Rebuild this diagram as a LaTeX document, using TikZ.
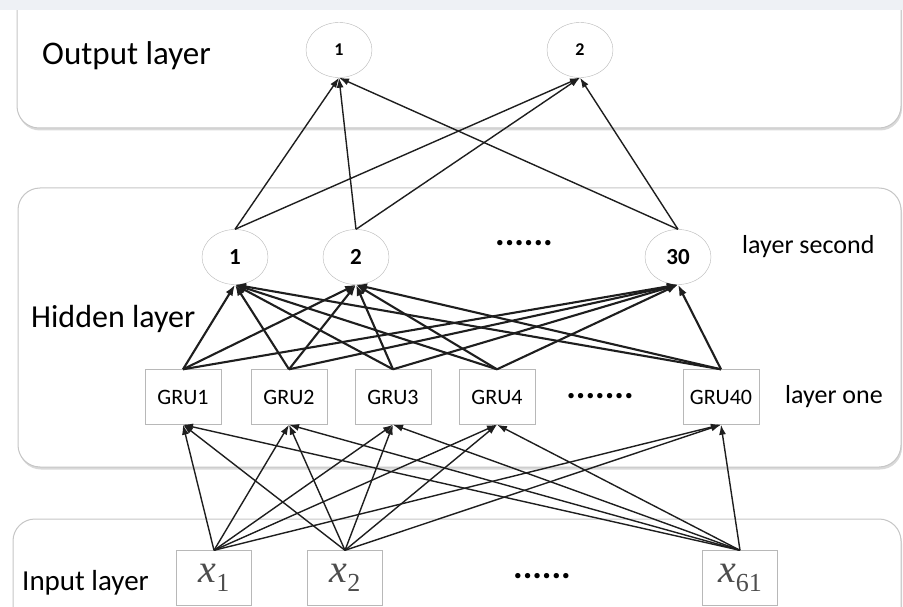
\documentclass[tikz,border=0pt]{standalone}
\usepackage{fontspec}
\setmainfont{Carlito}
\newfontfamily\serifx{Liberation Serif}
\usetikzlibrary{arrows.meta,positioning,shapes.geometric,shadows}
\definecolor{panelgray}{HTML}{C6C6C6}
\definecolor{boxgray}{HTML}{B8B8B8}
\definecolor{linkgray}{HTML}{1E1E1E}
\definecolor{xgray}{HTML}{4D4D4D}
\definecolor{bandgray}{HTML}{EEF1F5}
\newcommand{\xin}[1]{{\fontsize{40}{40}\serifx\itshape x}\raisebox{-9pt}{\fontsize{26}{26}\serifx #1}}
\tikzset{
  panel/.style={draw=panelgray,line width=1pt,rounded corners=22pt,fill=white,drop shadow={shadow xshift=1pt,shadow yshift=-2.5pt,opacity=.3,fill=gray}},
  neuron/.style={ellipse,draw=boxgray,fill=white,minimum width=66pt,minimum height=55pt,inner sep=0pt,font=\fontsize{23}{25}\selectfont\bfseries},
  outneuron/.style={neuron,font=\fontsize{18}{20}\selectfont\bfseries},
  grubox/.style={rectangle,draw=boxgray,fill=white,minimum width=76pt,minimum height=55pt,inner sep=0pt,font=\fontsize{22}{24}\selectfont},
  inbox/.style={rectangle,draw=boxgray,fill=white,minimum width=75pt,minimum height=55pt,inner sep=0pt,text=xgray},
  layertitle/.style={anchor=base west,inner sep=0pt},
  dots/.style={font=\fontsize{36}{36}\selectfont\bfseries,inner sep=0pt},
  link/.style={-{Latex[length=10pt,width=7pt]},line width=1.4pt,draw=linkgray},
  boldlink/.style={-{Latex[length=11pt,width=8pt]},line width=2.1pt,draw=linkgray}
}

\begin{document}
\begin{tikzpicture}[x=1pt,y=-1pt]
\useasboundingbox (0,0) rectangle (903,607);

% layer panels
\draw[panel] (17,-40) rectangle (901,128);
\draw[panel] (18,188) rectangle (901,467);
\draw[panel] (13,519) rectangle (901,660);
\fill[bandgray] (0,0) rectangle (903,10);

% output layer
\node[layertitle,font=\fontsize{33}{36}\selectfont] (outtitle) at (42,65) {Output layer};
\node[outneuron] (o1) at (339,50) {1};
\node[outneuron] (o2) at (580,50) {2};

% hidden layer, second row
\node[layertitle,font=\fontsize{32}{35}\selectfont] (hidtitle) at (31,327) {Hidden layer};
\node[neuron] (h1) at (235,257) {1};
\node[neuron] (h2) at (356,257) {2};
\node[neuron] (h30) at (678,257) {30};
\node[dots] (hdots) at (524,243) {......};
\node[layertitle,font=\fontsize{26}{28}\selectfont] (second) at (742,253) {layer second};

% hidden layer, first row
\node[grubox] (g1) at (183,397) {GRU1};
\node[grubox] (g2) at (289,397) {GRU2};
\node[grubox] (g3) at (393,397) {GRU3};
\node[grubox] (g4) at (497,397) {GRU4};
\node[grubox] (g40) at (721,397) {GRU40};
\node[dots] (gdots) at (600,396) {.......};
\node[layertitle,font=\fontsize{26}{28}\selectfont] (one) at (785,403) {layer one};

% input layer
\node[layertitle,font=\fontsize{29}{32}\selectfont] (intitle) at (22,590) {Input layer};
\node[inbox] (x1) at (214,578) {\xin{1}};
\node[inbox] (x2) at (345,578) {\xin{2}};
\node[inbox] (x61) at (740,578) {\xin{61}};
\node[dots] (xdots) at (542,576) {......};

% connections
\foreach \s in {x1,x2,x61}
  \foreach \t in {g1,g2,g3,g4,g40}
    \draw[link] (\s.north) -- (\t.south);
\foreach \s in {g1,g2,g3,g4,g40}
  \foreach \t in {h1,h2,h30}
    \draw[boldlink] (\s.north) -- (\t.south);
\foreach \s in {h1,h2,h30}
  \foreach \t in {o1,o2}
    \draw[link] (\s.north) -- (\t.south);
\end{tikzpicture}
\end{document}
